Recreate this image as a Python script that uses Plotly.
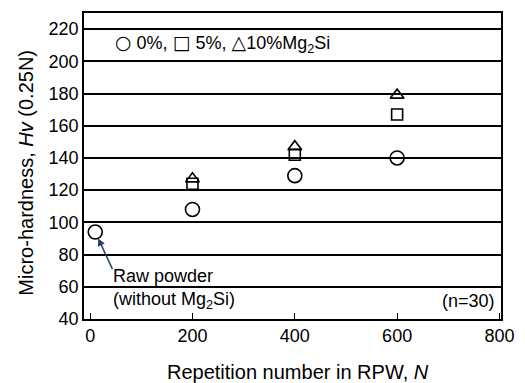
import plotly.graph_objects as go

x0 = [10, 200, 400, 600]
hv0 = [94, 108, 129, 140]
x5 = [200, 400, 600]
hv5 = [124, 142, 167]
x10 = [200, 400, 600]
hv10 = [127, 147, 179]

xticks = [0, 200, 400, 600, 800]
yticks = [40, 60, 80, 100, 120, 140, 160, 180, 200, 220]

F = "Liberation Sans, Arial, sans-serif"
fig = go.Figure()
fig.add_trace(go.Scatter(x=x0, y=hv0, mode="markers",
    marker=dict(symbol="circle-open", size=14, color="black", line=dict(width=1.6))))
fig.add_trace(go.Scatter(x=x5, y=hv5, mode="markers",
    marker=dict(symbol="square-open", size=11, color="black", line=dict(width=1.6))))
fig.add_trace(go.Scatter(x=x10, y=hv10, mode="markers",
    marker=dict(symbol="triangle-up-open", size=12, color="black", line=dict(width=1.6))))

fig.update_layout(
    width=525, height=383, showlegend=False,
    margin=dict(l=84, r=22, t=11, b=64),
    plot_bgcolor="white", paper_bgcolor="white",
    font=dict(family=F, size=18, color="black"),
    xaxis=dict(range=[-12, 803], tickvals=xticks, ticks="inside", ticklen=6,
               tickwidth=1, tickcolor="black", showgrid=False, zeroline=False,
               showline=True, linecolor="black", linewidth=1.5, mirror=True,
               tickfont=dict(size=18)),
    yaxis=dict(range=[40, 230], tickvals=yticks, ticks="", showgrid=True,
               gridcolor="black", gridwidth=1.5, zeroline=False,
               showline=True, linecolor="black", linewidth=1.5, mirror=True,
               tickfont=dict(size=18)),
)

# axis titles
fig.add_annotation(x=0.514, y=-0.172, xref="paper", yref="paper", xanchor="center",
    yanchor="middle", text="Repetition number in RPW, <i>N</i>", showarrow=False,
    font=dict(size=20))
fig.add_annotation(x=-0.14, y=0.477, xref="paper", yref="paper", xanchor="center",
    yanchor="middle", textangle=-90, text="Micro-hardness, <i>Hv</i> (0.25N)",
    showarrow=False, font=dict(size=20))

sym = '<span style="font-family:DejaVu Sans;font-size:19px">%s</span>'
fig.add_annotation(x=0.07, y=211, xref="paper", yref="y", xanchor="left", yanchor="middle",
    text=(sym % "○") + " 0%, " + (sym % "□") + " 5%, " + (sym % "△") + "10%Mg<sub>2</sub>Si",
    showarrow=False, font=dict(size=18))
fig.add_annotation(x=10, y=94, xref="x", yref="y", ax=45, ay=70, axref="x", ayref="y",
    text="", showarrow=True, arrowhead=2, arrowsize=1, arrowwidth=1.5, standoff=7)
fig.add_annotation(x=0.065, y=58.8, xref="paper", yref="y", xanchor="left", yanchor="middle",
    text="Raw powder<br>(without Mg<sub>2</sub>Si)", align="left", showarrow=False,
    font=dict(size=18))
fig.add_annotation(x=0.99, y=51, xref="paper", yref="y", xanchor="right", yanchor="middle",
    text="(n=30)", showarrow=False, font=dict(size=18))

fig.write_html("out.html")
